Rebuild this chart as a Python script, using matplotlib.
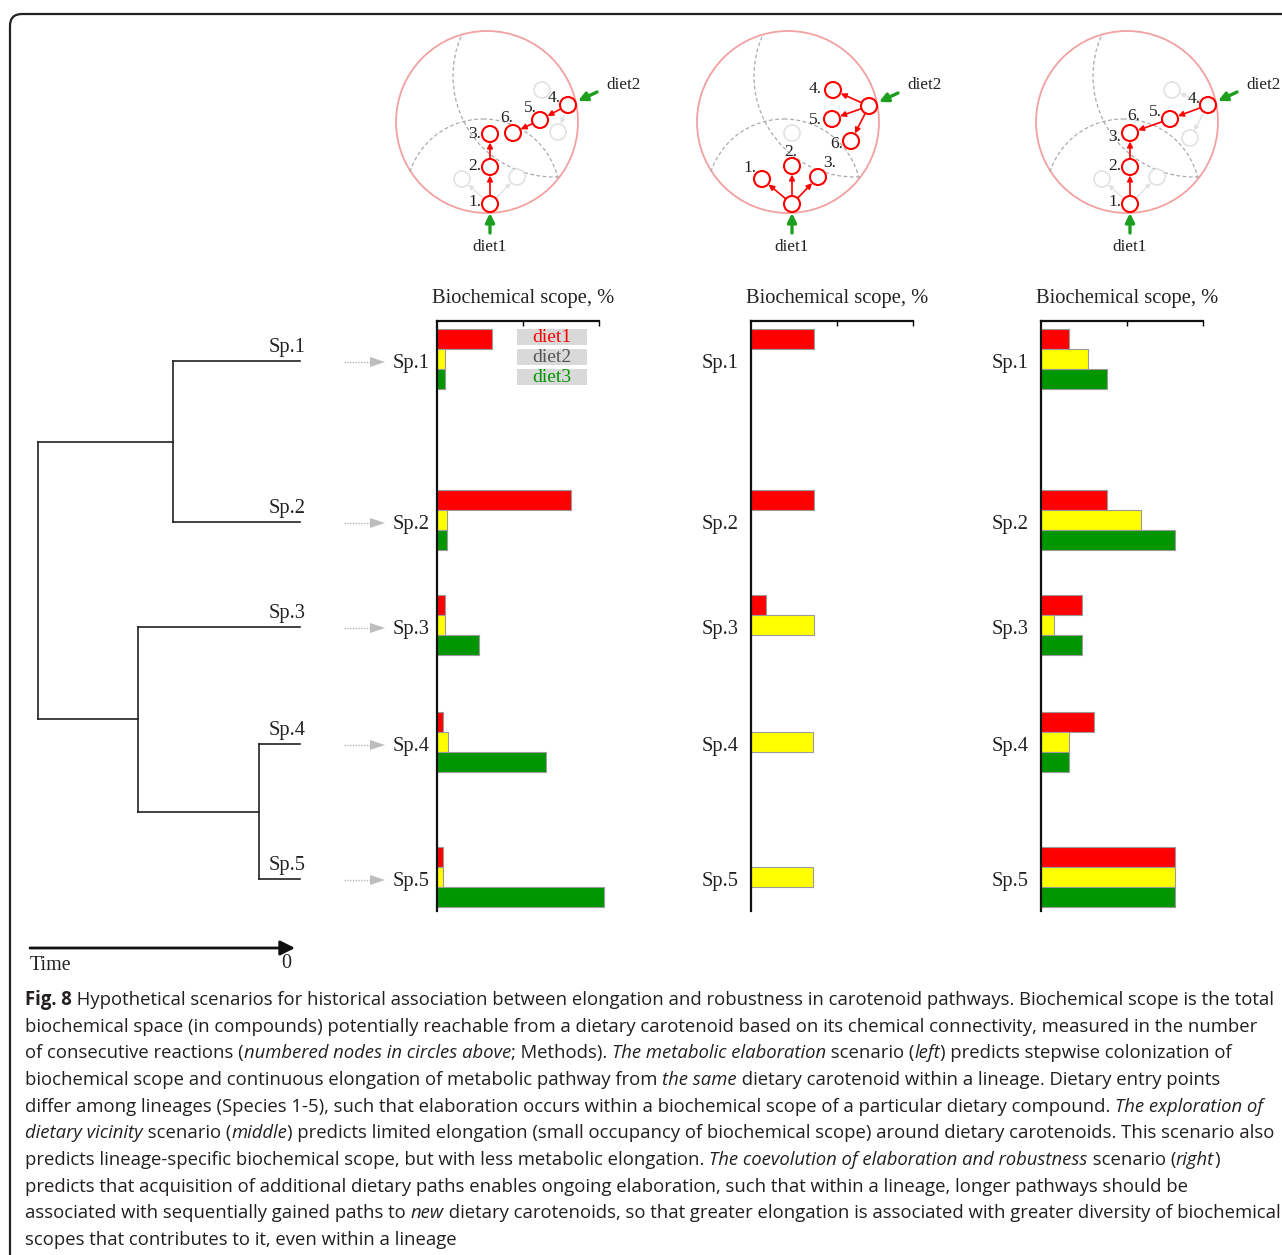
import numpy as np
import matplotlib
matplotlib.use("Agg")
import matplotlib.pyplot as plt
from matplotlib.patches import Circle, Rectangle, FancyBboxPatch, Polygon

W, H = 1282, 1255
plt.rcParams["font.family"] = ["Liberation Serif", "DejaVu Serif"]

species = ["Sp.1", "Sp.2", "Sp.3", "Sp.4", "Sp.5"]
diets = ["diet1", "diet2", "diet3"]
diet_colors = ["#ff0000", "#ffff00", "#009600"]
legend_text_colors = ["#ff0000", "#555555", "#009600"]

# biochemical scope, %, one list per diet
left_diet1 = [34, 83, 5, 4, 4]
left_diet2 = [5, 6, 5, 7, 4]
left_diet3 = [5, 6, 26, 67, 103]
middle_diet1 = [39, 39, 9, 0, 0]
middle_diet2 = [0, 0, 39, 38, 38]
middle_diet3 = [0, 0, 0, 0, 0]
right_diet1 = [17, 41, 25, 33, 83]
right_diet2 = [29, 62, 8, 17, 83]
right_diet3 = [41, 83, 25, 17, 83]
panels = [
    (left_diet1, left_diet2, left_diet3),
    (middle_diet1, middle_diet2, middle_diet3),
    (right_diet1, right_diet2, right_diet3),
]

# layout (pixel rows / columns of the figure)
group_y = [359, 520, 625, 742, 877]
panel_x0 = [437, 751, 1041]
label_pad = [5, 9, 9]
axis_top, axis_bottom, axis_w = 321, 911, 162
bar_h = 20

# tree: (node x, children); tips are species names
tree = (38, [(173, ["Sp.1", "Sp.2"]), (138, ["Sp.3", (259, ["Sp.4", "Sp.5"])])])
tip_x = 300

# scope diagrams: node offsets from the circle centre
circle_cx = [487, 788, 1127]
circle_cy = 122
R_BIG, R_NODE = 91, 8
nodes = [
    {"1": (3, 82), "2": (3, 45), "3": (3, 12), "4": (81, -17), "5": (53, -2), "6": (26, 11)},
    {"a": (4, 82), "1": (-26, 57), "2": (4, 44), "3": (30, 55),
     "b": (81, -16), "4": (45, -32), "5": (44, -3), "6": (63, 19)},
    {"1": (3, 82), "2": (3, 45), "3": (3, 11), "4": (81, -17), "5": (43, -3)},
]
edges = [
    [("1", "2"), ("2", "3"), ("4", "5"), ("5", "6")],
    [("a", "1"), ("a", "2"), ("a", "3"), ("b", "4"), ("b", "5"), ("b", "6")],
    [("1", "2"), ("2", "3"), ("4", "5"), ("5", "3")],
]
ghosts = [
    {"g1": (-25, 57), "g2": (30, 55), "g3": (55, -32), "g4": (71, 10)},
    {"g1": (4, 11)},
    {"g1": (-25, 57), "g2": (30, 55), "g3": (45, -32), "g4": (63, 16)},
]
ghost_edges = [
    [("1", "g1"), ("1", "g2"), ("4", "g4")],
    [],
    [("1", "g1"), ("1", "g2"), ("4", "g3"), ("4", "g4")],
]
labels = [
    {"1.": (-6, 80, "right"), "2.": (-6, 44, "right"), "3.": (-6, 12, "right"),
     "4.": (74, -24, "right"), "5.": (50, -14, "right"), "6.": (26, -4, "right")},
    {"1.": (-32, 46, "right"), "2.": (3, 30, "center"), "3.": (48, 41, "right"),
     "4.": (34, -33, "right"), "5.": (34, -2, "right"), "6.": (55, 22, "right")},
    {"1.": (-6, 80, "right"), "2.": (-6, 44, "right"), "3.": (-6, 15, "right"),
     "6.": (13, -6, "right"), "5.": (35, -10, "right"), "4.": (74, -23, "right")},
]
entry1 = ["1", "a", "1"]
entry2 = ["4", "b", "4"]

caption = [
    [("Fig. 8", "b"), (" Hypothetical scenarios for historical association between elongation and robustness in carotenoid pathways. Biochemical scope is the total", "n")],
    [("biochemical space (in compounds) potentially reachable from a dietary carotenoid based on its chemical connectivity, measured in the number", "n")],
    [("of consecutive reactions (", "n"), ("numbered nodes in circles above", "i"), ("; Methods). ", "n"), ("The metabolic elaboration", "i"), (" scenario (", "n"), ("left", "i"), (") predicts stepwise colonization of", "n")],
    [("biochemical scope and continuous elongation of metabolic pathway from ", "n"), ("the same", "i"), (" dietary carotenoid within a lineage. Dietary entry points", "n")],
    [("differ among lineages (Species 1-5), such that elaboration occurs within a biochemical scope of a particular dietary compound. ", "n"), ("The exploration of", "i")],
    [("dietary vicinity", "i"), (" scenario (", "n"), ("middle", "i"), (") predicts limited elongation (small occupancy of biochemical scope) around dietary carotenoids. This scenario also", "n")],
    [("predicts lineage-specific biochemical scope, but with less metabolic elongation. ", "n"), ("The coevolution of elaboration and robustness", "i"), (" scenario (", "n"), ("right", "i"), (")", "n")],
    [("predicts that acquisition of additional dietary paths enables ongoing elaboration, such that within a lineage, longer pathways should be", "n")],
    [("associated with sequentially gained paths to ", "n"), ("new", "i"), (" dietary carotenoids, so that greater elongation is associated with greater diversity of biochemical", "n")],
    [("scopes that contributes to it, even within a lineage", "n")],
]

fig = plt.figure(figsize=(W / 100, H / 100), dpi=100)
bg = fig.add_axes([0, 0, 1, 1])
bg.set_xlim(0, W)
bg.set_ylim(H, 0)
bg.axis("off")

# frame
bg.add_patch(FancyBboxPatch((10, 14), 1500, 1500, boxstyle="round,pad=0,rounding_size=12",
                            fc="none", ec="#222222", lw=1.6))


def arrow(a, b, color, lw, ms):
    bg.annotate("", xy=b, xytext=a,
                arrowprops=dict(arrowstyle="-|>", color=color, lw=lw, mutation_scale=ms,
                                shrinkA=0, shrinkB=0))


def node_arrow(p, q, color, lw=1.2, ms=8):
    p, q = np.array(p, float), np.array(q, float)
    u = (q - p) / np.hypot(*(q - p))
    arrow(p + u * R_NODE, q - u * (R_NODE + 0.5), color, lw, ms)


# scope diagrams
for k, cx in enumerate(circle_cx):
    big = Circle((cx, circle_cy), R_BIG, fc="none", ec="#f2a0a0", lw=1.3)
    bg.add_patch(big)
    for (dx, dy, r) in [(67, -46, 101), (-4, 74, 77)]:
        arc = Circle((cx + dx, circle_cy + dy), r, fc="none", ec="#ababab", lw=0.9, ls=(0, (3, 2)))
        bg.add_patch(arc)
        arc.set_clip_path(big)
    pos = {n: (cx + dx, circle_cy + dy) for n, (dx, dy) in nodes[k].items()}
    gpos = {n: (cx + dx, circle_cy + dy) for n, (dx, dy) in ghosts[k].items()}
    for a, b in ghost_edges[k]:
        node_arrow(pos[a], gpos[b], "#e2e2e2", lw=1.0, ms=7)
    for p in gpos.values():
        bg.add_patch(Circle(p, R_NODE, fc="white", ec="#e2e2e2", lw=1.2))
    for a, b in edges[k]:
        node_arrow(pos[a], pos[b], "#ff0000")
    for p in pos.values():
        bg.add_patch(Circle(p, R_NODE, fc="white", ec="#ff0000", lw=1.5, zorder=3))
    for txt, (dx, dy, ha) in labels[k].items():
        bg.text(cx + dx, circle_cy + dy, txt, ha=ha, va="center", fontsize=12.5, color="#222222")
    # dietary entry arrows
    x1, y1 = pos[entry1[k]]
    arrow((x1, y1 + 29), (x1, y1 + R_NODE + 1), "#1e9e1e", 2.4, 13)
    bg.text(x1, circle_cy + 125, "diet1", ha="center", va="center", fontsize=12.3, color="#222222")
    x2, y2 = pos[entry2[k]]
    arrow((x2 + 29, y2 - 13), (x2 + R_NODE + 2, y2 - 4), "#1e9e1e", 2.4, 13)
    bg.text(cx + 119, circle_cy - 37, "diet2", ha="left", va="center", fontsize=12.3, color="#222222")

# tree
tip_y = dict(zip(species, group_y))


def draw_tree(node, parent_x=None):
    if isinstance(node, str):
        y = tip_y[node] + 2
        bg.plot([parent_x, tip_x], [y, y], color="#222222", lw=1.2)
        bg.text(tip_x + 6, y - 4, node, ha="right", va="bottom", fontsize=14.8, color="#222222")
        return y
    x, children = node
    ys = [draw_tree(c, x) for c in children]
    bg.plot([x, x], [min(ys), max(ys)], color="#222222", lw=1.2)
    y = (min(ys) + max(ys)) / 2
    if parent_x is not None:
        bg.plot([parent_x, x], [y, y], color="#222222", lw=1.2)
    return y


draw_tree(tree)

# grey pointers from the tree to the bars
for y in group_y:
    yy = y + 3
    bg.plot([344, 371], [yy, yy], color="#b5b5b5", lw=1.0, ls=(0, (1, 1)))
    bg.add_patch(Polygon([(370, yy - 5), (385, yy), (370, yy + 5)], closed=True, fc="#bdbdbd", ec="none"))

# time arrow
arrow((30, 948), (295, 948), "#111111", 2.0, 22)
bg.text(30, 966, "Time", ha="left", va="center", fontsize=14.4, color="#222222")
bg.text(286, 963, "0", ha="center", va="center", fontsize=14.4, color="#222222")

# bar panels
for k, x0 in enumerate(panel_x0):
    ax = fig.add_axes([x0 / W, 1 - axis_bottom / H, axis_w / W, (axis_bottom - axis_top) / H])
    ax.patch.set_alpha(0)
    ax.set_xlim(0, 100)
    ax.set_ylim(axis_bottom, axis_top)
    y = np.array(group_y)
    for j, vals in enumerate(panels[k]):
        v = np.array(vals, float)
        m = v > 0
        ax.barh(y[m] + (j - 1) * bar_h, v[m], height=bar_h, color=diet_colors[j],
                edgecolor="#9a9a9a", lw=0.8, clip_on=False)
    for s in ["right", "bottom"]:
        ax.spines[s].set_visible(False)
    for s in ["left", "top"]:
        ax.spines[s].set_linewidth(1.6)
        ax.spines[s].set_color("#111111")
    ax.xaxis.tick_top()
    ax.set_xticks([53, 100])
    ax.set_xticklabels([])
    ax.tick_params(axis="x", direction="in", length=3.5, width=1.0)
    ax.set_yticks(np.array(group_y) + 2, species)
    ax.tick_params(axis="y", length=0, pad=label_pad[k], labelsize=14.8, labelcolor="#222222")
    bg.text(x0 + 86, 298, "Biochemical scope, %", ha="center", va="center", fontsize=14.8,
            color="#222222")

# legend boxes
for j, d in enumerate(diets):
    y = 329 + 20 * j
    bg.add_patch(Rectangle((517, y), 70, 16, fc="#d9d9d9", ec="none"))
    bg.text(552, y + 8, d, ha="center", va="center", fontsize=14, color=legend_text_colors[j])

# caption
renderer = fig.canvas.get_renderer()
styles = {"n": dict(weight="normal", style="normal"),
          "b": dict(weight="bold", style="normal"),
          "i": dict(weight="normal", style="italic")}
cap_family = ["Open Sans", "DejaVu Sans"]


def text_width(s, size, st):
    t1 = bg.text(0, 0, "|" + s + "|", fontsize=size, family=cap_family, **styles[st])
    t0 = bg.text(0, 0, "||", fontsize=size, family=cap_family, **styles[st])
    w = t1.get_window_extent(renderer).width - t0.get_window_extent(renderer).width
    t1.remove()
    t0.remove()
    return w


w_ref = sum(text_width(s, 10, st) for s, st in caption[0])
cap_size = 10 * 1251 / w_ref

for i, runs in enumerate(caption):
    x = 25
    y = 1005 + i * 26.67
    for s, st in runs:
        bg.text(x, y, s, ha="left", va="baseline", fontsize=cap_size, family=cap_family,
                color="#231f20", **styles[st])
        x += text_width(s, cap_size, st)

fig.savefig("out.png", dpi=100)
